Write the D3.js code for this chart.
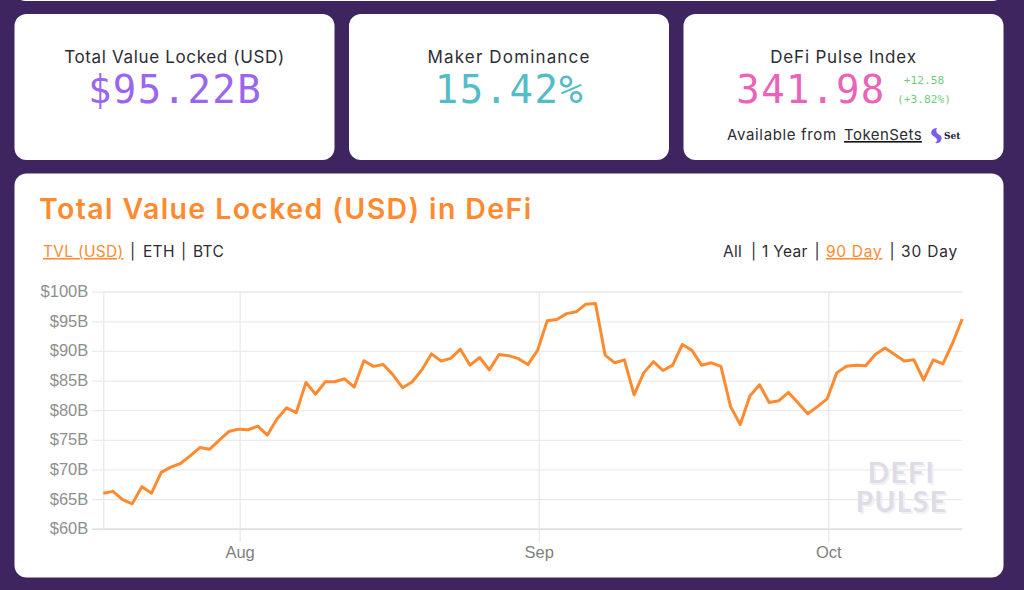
<!DOCTYPE html>
<html><head><meta charset="utf-8">
<style>html,body{margin:0;padding:0;background:#3e2560;overflow:hidden}svg{display:block}
.ui{font-family:Inter,sans-serif}.mono{font-family:"DejaVu Sans Mono",monospace}
.axis text{font-family:"Liberation Sans",Arial,sans-serif;font-size:16.5px;fill:#8f8f8f}
.wm{text-shadow:2px 2px 0 #f1f0f4}
</style></head><body><svg id="c" width="1024" height="590"></svg>
<script src="https://cdn.jsdelivr.net/npm/d3@7/dist/d3.min.js"></script>
<script>
const tvlValues=[66.0,66.3,64.9,64.2,67.1,66.0,69.5,70.4,71.0,72.3,73.7,73.4,74.9,76.4,76.8,76.7,77.3,75.8,78.5,80.4,79.6,84.7,82.7,84.8,84.8,85.3,83.9,88.35,87.4,87.7,86.0,83.8,84.75,86.8,89.5,88.3,88.75,90.3,87.6,88.9,86.8,89.4,89.2,88.7,87.7,90.1,95.1,95.3,96.3,96.6,97.9,98.0,89.3,88.0,88.5,82.6,86.3,88.2,86.7,87.6,91.1,90.1,87.6,88.0,87.4,80.6,77.6,82.4,84.3,81.3,81.6,83.0,81.2,79.4,80.6,81.9,86.3,87.4,87.6,87.5,89.4,90.5,89.4,88.3,88.5,85.1,88.5,87.8,91.3,95.4];
const yTicks=[60,65,70,75,80,85,90,95,100];
const monthTicks=[new Date(Date.UTC(2020,7,1)),new Date(Date.UTC(2020,8,1)),new Date(Date.UTC(2020,9,1))];
const monthLabels=["Aug","Sep","Oct"];
const firstDay=new Date(Date.UTC(2020,6,17,21));
const dates=tvlValues.map((_,i)=>d3.utcDay.offset(firstDay,i));
const cards=[
 {x:14.5,w:320,title:"Total Value Locked (USD)",tx:174.5,ls:.65,value:"$95.22B",color:"#9a66f0",cx:175},
 {x:349,w:320,title:"Maker Dominance",tx:509,ls:1.15,value:"15.42%",color:"#52bcc7",cx:509.5},
 {x:683.5,w:320,title:"DeFi Pulse Index",tx:843.5,ls:.8,value:"341.98",color:"#ea63b8",cx:811}];

const svg=d3.select("#c");
const white="#fff",orange="#ff8a2f",dark="#2c2c33";
svg.append("rect").attr("x",0).attr("y",0).attr("width",1024).attr("height",590).attr("fill","#3e2560");
svg.append("rect").attr("x",14.5).attr("y",-30).attr("width",989).attr("height",31).attr("rx",11).attr("fill",white);
cards.forEach(c=>{
 svg.append("rect").attr("x",c.x).attr("y",14).attr("width",c.w).attr("height",146).attr("rx",12).attr("fill",white);
 svg.append("text").attr("class","ui").attr("x",c.tx).attr("y",63).attr("text-anchor","middle").attr("font-size",17).attr("letter-spacing",c.ls).attr("fill",dark).text(c.title);
 svg.append("text").attr("class","mono").attr("x",c.cx).attr("y",103).attr("text-anchor","middle").attr("font-size",39).attr("letter-spacing",1.4).attr("fill",c.color).text(c.value);
});
svg.append("text").attr("class","mono").attr("x",924).attr("y",84).attr("text-anchor","middle").attr("font-size",11.2).attr("fill","#6fce7a").text("+12.58");
svg.append("text").attr("class","mono").attr("x",924).attr("y",103).attr("text-anchor","middle").attr("font-size",11.2).attr("fill","#6fce7a").text("(+3.82%)");
svg.append("text").attr("class","ui").attr("x",727).attr("y",140).attr("font-size",15).attr("letter-spacing",.65).attr("fill",dark).text("Available from");
svg.append("text").attr("class","ui").attr("x",844).attr("y",140).attr("font-size",15).attr("letter-spacing",.45).attr("fill",dark).text("TokenSets");
svg.append("rect").attr("x",844).attr("y",141).attr("width",78).attr("height",1.6).attr("fill","#111");
svg.append("path").attr("d","M937 128c-5 0-7 4-5 7l4 3c2 2 1 4-1 5 5 1 8-3 6-7l-4-3c-1-2-1-4 0-5z").attr("fill","#7a5cf0");
svg.append("text").attr("x",944).attr("y",139).attr("font-family","'DejaVu Serif',serif").attr("font-weight",700).attr("font-size",9).attr("fill","#1d1a3a").text("Set");

svg.append("rect").attr("x",14.5).attr("y",173.5).attr("width",989).attr("height",404).attr("rx",12).attr("fill",white);
svg.append("text").attr("class","ui").attr("x",39).attr("y",219).attr("font-size",28.5).attr("font-weight",600).attr("letter-spacing",1.38).attr("fill",orange).text("Total Value Locked (USD) in DeFi");

const nav=(x,y,t,col,u,ls)=>{const s=svg.append("text").attr("class","ui").attr("x",x).attr("y",y).attr("font-size",15.5).attr("letter-spacing",ls||.3).attr("fill",col).text(t);if(u)s.attr("text-decoration","underline");};
nav(43,257,"TVL (USD)",orange,true);nav(130,257,"|",dark);nav(143,257,"ETH",dark);nav(181,257,"|",dark);nav(193,257,"BTC",dark);
nav(723,257,"All",dark);nav(751,257,"|",dark);nav(762,257,"1 Year",dark);nav(814.5,257,"|",dark);nav(826,257,"90 Day",orange,true,.7);nav(889.5,257,"|",dark);nav(901,257,"30 Day",dark,false,.85);

const x=d3.scaleUtc().domain([firstDay,dates[dates.length-1]]).range([103.3,962.2]);
const y=d3.scaleLinear().domain([60,100]).range([528.7,291.7]);

const gy=svg.append("g").attr("class","axis").attr("transform","translate(103.3,0)")
 .call(d3.axisLeft(y).tickValues(yTicks).tickFormat(d=>"$"+d+"B").tickSize(-858.9).tickPadding(15));
gy.select(".domain").attr("stroke","#e8e8e8").attr("stroke-width",1.3);
gy.selectAll(".tick line").attr("stroke","#ebebeb").attr("stroke-width",1.2).attr("x1",-11.5).attr("x2",858.9);
gy.selectAll(".tick text").attr("dy","0.3em");
gy.selectAll(".tick").filter(d=>d===60).select("line").attr("stroke","#dedede").attr("stroke-width",1.5);

const gx=svg.append("g").attr("class","axis").attr("transform","translate(0,528.7)")
 .call(d3.axisBottom(x).tickValues(monthTicks).tickFormat((d,i)=>monthLabels[i]).tickSize(0).tickPadding(18));
gx.select(".domain").remove();
gx.selectAll(".tick line").attr("stroke","#e6e6e6").attr("stroke-width",1.2).attr("y1",-237).attr("y2",13);
gx.selectAll(".tick text").style("fill","#808080");

const wm=[["DEFI",901.5,483],["PULSE",901.5,512]];
wm.forEach(([t,a,b])=>{
  svg.append("text").attr("class","wm").attr("x",a).attr("y",b).attr("text-anchor","middle").attr("font-family","Lato,sans-serif").attr("font-weight",700).attr("font-size",28).attr("letter-spacing",1.5).attr("fill","#dfdce7").text(t);
});

const line=d3.line().x((d,i)=>x(dates[i])).y(d=>y(d));
svg.append("path").datum(tvlValues).attr("d",line).attr("fill","none").attr("stroke",orange).attr("stroke-width",3).attr("stroke-linejoin","round");
</script></body></html>
